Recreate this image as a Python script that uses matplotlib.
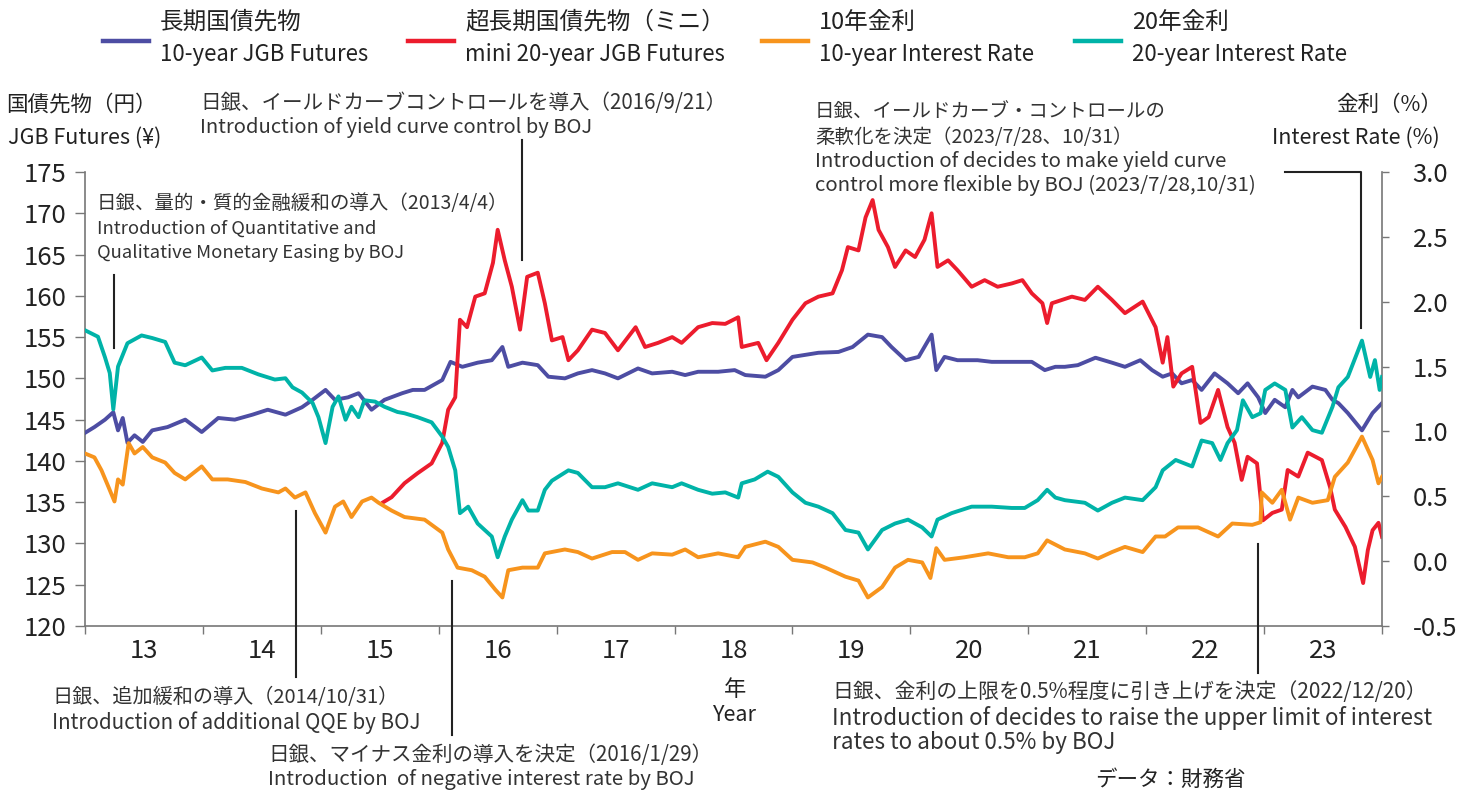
import matplotlib
matplotlib.use('Agg')
import matplotlib.pyplot as plt
from matplotlib.lines import Line2D

plt.rcParams['font.family'] = ['Noto Sans CJK JP', 'DejaVu Sans']

# ---------------- data (decimal years) ----------------
jgb_x = [2013.00, 2013.08, 2013.17, 2013.24, 2013.28, 2013.32, 2013.36, 2013.42, 2013.49, 2013.57,
         2013.70, 2013.85, 2013.99, 2014.13, 2014.27, 2014.42, 2014.55, 2014.70, 2014.84, 2014.93,
         2015.04, 2015.12, 2015.23, 2015.32, 2015.43, 2015.54, 2015.69, 2015.78, 2015.88, 2016.03,
         2016.10, 2016.20, 2016.33, 2016.45, 2016.54, 2016.59, 2016.71, 2016.84, 2016.93, 2017.07,
         2017.18, 2017.30, 2017.41, 2017.52, 2017.69, 2017.81, 2017.98, 2018.09, 2018.20, 2018.37,
         2018.51, 2018.60, 2018.77, 2018.88, 2019.00, 2019.22, 2019.39, 2019.51, 2019.64, 2019.76,
         2019.84, 2019.96, 2020.07, 2020.18, 2020.22, 2020.29, 2020.40, 2020.57, 2020.69, 2020.86,
         2021.03, 2021.14, 2021.23, 2021.31, 2021.42, 2021.57, 2021.71, 2021.82, 2021.95, 2022.05,
         2022.14, 2022.22, 2022.30, 2022.39, 2022.47, 2022.58, 2022.69, 2022.78, 2022.86, 2022.95,
         2023.01, 2023.09, 2023.18, 2023.24, 2023.29, 2023.41, 2023.52, 2023.58, 2023.63, 2023.71,
         2023.83, 2023.92, 2024.00]
jgb_y = [143.4, 144.1, 145.0, 145.9, 143.7, 145.2, 142.2, 143.1, 142.3, 143.7,
         144.1, 145.0, 143.5, 145.2, 145.0, 145.6, 146.2, 145.6, 146.5, 147.4,
         148.6, 147.4, 147.7, 148.2, 146.2, 147.4, 148.2, 148.6, 148.6, 149.8,
         152.0, 151.4, 151.9, 152.2, 153.8, 151.4, 151.9, 151.6, 150.2, 150.0,
         150.6, 151.0, 150.6, 150.0, 151.2, 150.6, 150.8, 150.4, 150.8, 150.8,
         151.0, 150.4, 150.2, 151.0, 152.6, 153.1, 153.2, 153.8, 155.3, 155.0,
         153.8, 152.2, 152.6, 155.3, 151.0, 152.6, 152.2, 152.2, 152.0, 152.0,
         152.0, 151.0, 151.4, 151.4, 151.6, 152.5, 151.9, 151.4, 152.2, 151.0,
         150.2, 150.6, 149.4, 149.8, 148.6, 150.6, 149.4, 148.2, 149.4, 147.7,
         145.8, 147.4, 146.5, 148.6, 147.7, 149.0, 148.6, 147.4, 147.0, 145.8,
         143.7, 145.8, 147.0]

mini_x = [2015.53, 2015.60, 2015.71, 2015.82, 2015.94, 2016.03, 2016.08, 2016.14, 2016.18, 2016.24,
          2016.31, 2016.39, 2016.46, 2016.50, 2016.56, 2016.62, 2016.69, 2016.75, 2016.84, 2016.90,
          2016.96, 2017.05, 2017.10, 2017.18, 2017.30, 2017.41, 2017.52, 2017.67, 2017.75, 2017.86,
          2017.98, 2018.06, 2018.20, 2018.32, 2018.43, 2018.54, 2018.57, 2018.71, 2018.78, 2018.88,
          2019.00, 2019.11, 2019.22, 2019.34, 2019.42, 2019.47, 2019.56, 2019.62, 2019.68, 2019.73,
          2019.81, 2019.87, 2019.96, 2020.04, 2020.12, 2020.18, 2020.23, 2020.32, 2020.40, 2020.52,
          2020.63, 2020.74, 2020.86, 2020.95, 2021.03, 2021.12, 2021.16, 2021.20, 2021.37, 2021.48,
          2021.59, 2021.71, 2021.82, 2021.97, 2022.08, 2022.14, 2022.18, 2022.23, 2022.30, 2022.39,
          2022.46, 2022.53, 2022.61, 2022.69, 2022.75, 2022.81, 2022.86, 2022.94, 2022.99, 2023.07,
          2023.15, 2023.20, 2023.29, 2023.37, 2023.49, 2023.56, 2023.60, 2023.69, 2023.77, 2023.84,
          2023.88, 2023.92, 2023.97, 2024.00]
mini_y = [135.0, 135.6, 137.3, 138.5, 139.7, 142.2, 146.2, 147.7, 157.1, 156.2,
          159.9, 160.3, 164.0, 168.0, 164.3, 161.1, 155.9, 162.3, 162.8, 159.1,
          154.6, 155.0, 152.2, 153.4, 155.9, 155.5, 153.4, 156.2, 153.8, 154.3,
          155.0, 154.3, 156.2, 156.7, 156.6, 157.4, 153.8, 154.3, 152.2, 154.3,
          157.1, 159.1, 159.9, 160.3, 163.1, 165.9, 165.5, 169.5, 171.6, 168.0,
          165.9, 163.5, 165.5, 164.7, 166.8, 170.0, 163.5, 164.3, 163.1, 161.1,
          161.9, 161.1, 161.5, 161.9, 160.3, 159.1, 156.7, 159.1, 159.9, 159.5,
          161.1, 159.5, 157.9, 159.3, 156.2, 151.9, 155.0, 149.0, 150.6, 151.4,
          144.6, 145.3, 148.6, 144.1, 142.2, 137.7, 140.5, 139.7, 132.8, 133.7,
          134.1, 138.9, 138.1, 141.0, 140.1, 136.8, 134.1, 132.0, 129.6, 125.2,
          129.2, 131.6, 132.5, 130.8]

r10_x = [2013.00, 2013.08, 2013.14, 2013.20, 2013.25, 2013.28, 2013.32, 2013.37, 2013.42, 2013.49,
         2013.57, 2013.68, 2013.76, 2013.85, 2013.99, 2014.08, 2014.21, 2014.36, 2014.50, 2014.64,
         2014.70, 2014.78, 2014.87, 2014.95, 2015.04, 2015.12, 2015.19, 2015.26, 2015.35, 2015.43,
         2015.49, 2015.60, 2015.71, 2015.88, 2016.03, 2016.08, 2016.16, 2016.28, 2016.39, 2016.48,
         2016.54, 2016.59, 2016.71, 2016.84, 2016.90, 2017.07, 2017.18, 2017.30, 2017.47, 2017.58,
         2017.69, 2017.81, 2017.98, 2018.09, 2018.20, 2018.37, 2018.54, 2018.60, 2018.77, 2018.88,
         2019.00, 2019.17, 2019.28, 2019.45, 2019.56, 2019.64, 2019.76, 2019.87, 2019.98, 2020.10,
         2020.17, 2020.22, 2020.29, 2020.46, 2020.66, 2020.83, 2020.97, 2021.08, 2021.16, 2021.31,
         2021.48, 2021.59, 2021.71, 2021.82, 2021.97, 2022.08, 2022.16, 2022.27, 2022.44, 2022.61,
         2022.73, 2022.90, 2022.97, 2022.98, 2023.07, 2023.15, 2023.22, 2023.29, 2023.41, 2023.54,
         2023.60, 2023.71, 2023.83, 2023.92, 2023.97, 2024.00]
r10_y = [0.83, 0.80, 0.70, 0.57, 0.46, 0.63, 0.59, 0.91, 0.83, 0.88,
         0.80, 0.76, 0.68, 0.63, 0.73, 0.63, 0.63, 0.61, 0.56, 0.53,
         0.56, 0.49, 0.53, 0.37, 0.22, 0.42, 0.46, 0.34, 0.46, 0.49,
         0.45, 0.39, 0.34, 0.32, 0.22, 0.09, -0.05, -0.07, -0.12, -0.22,
         -0.28, -0.07, -0.05, -0.05, 0.06, 0.09, 0.07, 0.02, 0.07, 0.07,
         0.01, 0.06, 0.05, 0.09, 0.03, 0.06, 0.03, 0.11, 0.15, 0.11,
         0.01, -0.01, -0.05, -0.12, -0.15, -0.28, -0.20, -0.05, 0.01, -0.01,
         -0.13, 0.10, 0.01, 0.03, 0.06, 0.03, 0.03, 0.06, 0.16, 0.09,
         0.06, 0.02, 0.07, 0.11, 0.07, 0.19, 0.19, 0.26, 0.26, 0.19,
         0.29, 0.28, 0.30, 0.53, 0.45, 0.55, 0.32, 0.49, 0.45, 0.47,
         0.65, 0.76, 0.96, 0.78, 0.60, 0.65]

r20_x = [2013.00, 2013.11, 2013.17, 2013.21, 2013.24, 2013.28, 2013.36, 2013.48, 2013.57, 2013.68,
         2013.76, 2013.85, 2013.99, 2014.08, 2014.19, 2014.33, 2014.47, 2014.61, 2014.70, 2014.76,
         2014.84, 2014.93, 2014.98, 2015.04, 2015.10, 2015.15, 2015.21, 2015.26, 2015.32, 2015.37,
         2015.46, 2015.54, 2015.65, 2015.71, 2015.82, 2015.94, 2016.03, 2016.08, 2016.14, 2016.18,
         2016.25, 2016.33, 2016.45, 2016.50, 2016.56, 2016.62, 2016.71, 2016.76, 2016.84, 2016.90,
         2016.96, 2017.10, 2017.18, 2017.30, 2017.41, 2017.52, 2017.69, 2017.81, 2017.98, 2018.06,
         2018.20, 2018.32, 2018.43, 2018.54, 2018.57, 2018.68, 2018.79, 2018.88, 2019.00, 2019.11,
         2019.22, 2019.34, 2019.45, 2019.56, 2019.64, 2019.76, 2019.87, 2019.98, 2020.10, 2020.18,
         2020.23, 2020.35, 2020.52, 2020.69, 2020.86, 2020.97, 2021.08, 2021.16, 2021.23, 2021.31,
         2021.48, 2021.59, 2021.71, 2021.82, 2021.97, 2022.08, 2022.14, 2022.25, 2022.39, 2022.47,
         2022.56, 2022.63, 2022.69, 2022.77, 2022.82, 2022.90, 2022.97, 2023.01, 2023.09, 2023.18,
         2023.24, 2023.32, 2023.41, 2023.49, 2023.58, 2023.63, 2023.71, 2023.83, 2023.90, 2023.94,
         2023.98, 2024.00]
r20_y = [1.78, 1.73, 1.57, 1.45, 1.17, 1.50, 1.68, 1.74, 1.72, 1.69,
         1.53, 1.51, 1.57, 1.47, 1.49, 1.49, 1.44, 1.40, 1.41, 1.34,
         1.30, 1.22, 1.11, 0.91, 1.19, 1.27, 1.09, 1.19, 1.11, 1.24,
         1.23, 1.19, 1.15, 1.14, 1.11, 1.07, 0.96, 0.88, 0.70, 0.37,
         0.42, 0.29, 0.19, 0.03, 0.19, 0.32, 0.47, 0.39, 0.39, 0.55,
         0.62, 0.70, 0.68, 0.57, 0.57, 0.60, 0.55, 0.60, 0.57, 0.60,
         0.55, 0.52, 0.53, 0.49, 0.60, 0.63, 0.69, 0.65, 0.53, 0.45,
         0.42, 0.37, 0.24, 0.22, 0.09, 0.24, 0.29, 0.32, 0.26, 0.19,
         0.32, 0.37, 0.42, 0.42, 0.41, 0.41, 0.47, 0.55, 0.49, 0.47,
         0.45, 0.39, 0.45, 0.49, 0.47, 0.57, 0.70, 0.78, 0.73, 0.93,
         0.91, 0.78, 0.91, 1.01, 1.24, 1.11, 1.14, 1.32, 1.37, 1.32,
         1.03, 1.11, 1.01, 0.99, 1.19, 1.34, 1.42, 1.70, 1.42, 1.55,
         1.32, 1.42]

year_ticks = list(range(2013, 2025))
year_labels = ['13', '14', '15', '16', '17', '18', '19', '20', '21', '22', '23']
left_ticks = [120, 125, 130, 135, 140, 145, 150, 155, 160, 165, 170, 175]
right_ticks = [-0.5, 0.0, 0.5, 1.0, 1.5, 2.0, 2.5, 3.0]
right_labels = ['-0.5', '0.0', '0.5', '1.0', '1.5', '2.0', '2.5', '3.0']

C_JGB = '#4D4DA3'
C_MINI = '#EC1C2D'
C_R10 = '#F7941D'
C_R20 = '#00B3A8'
TXT = '#333333'
DARK = '#222222'
SPINE = '#777777'

# ---------------- figure ----------------
W, H = 1460, 792
fig = plt.figure(figsize=(W / 100, H / 100), dpi=100)
L, R, T, B = 85, 1382, 172, 626
ax = fig.add_axes([L / W, 1 - B / H, (R - L) / W, (B - T) / H])
ax2 = ax.twinx()

LW = 2.8
ax.plot(jgb_x, jgb_y, color=C_JGB, lw=LW, solid_joinstyle='round', zorder=3)
ax.plot(mini_x, mini_y, color=C_MINI, lw=LW, solid_joinstyle='round', zorder=4)
ax2.plot(r20_x, r20_y, color=C_R20, lw=LW, solid_joinstyle='round', zorder=3)
ax2.plot(r10_x, r10_y, color=C_R10, lw=LW, solid_joinstyle='round', zorder=4)

ax.set_xlim(2013, 2024)
ax.set_ylim(120, 175)
ax2.set_ylim(-0.5, 3.0)

ax.set_xticks(year_ticks)
ax.set_xticklabels([''] * len(year_ticks))
ax.set_xticks([y + 0.5 for y in year_ticks[:-1]], minor=True)
ax.set_xticklabels(year_labels, minor=True)
ax.tick_params(axis='x', which='major', length=6, width=1, color=SPINE, direction='out')
ax.tick_params(axis='x', which='minor', length=0, pad=9, labelsize=18.5, labelcolor=DARK)

ax.set_yticks(left_ticks)
ax.set_yticklabels([str(v) for v in left_ticks])
ax.tick_params(axis='y', length=7, width=1, color=SPINE, pad=6, labelsize=18.5, labelcolor=DARK)

ax2.set_yticks(right_ticks)
ax2.set_yticklabels(right_labels)
ax2.tick_params(axis='y', length=5, width=1, color=SPINE, pad=17, labelsize=18.5, labelcolor=DARK)

for a in (ax, ax2):
    a.spines['top'].set_visible(False)
    for s in ('left', 'right', 'bottom'):
        a.spines[s].set_color(SPINE)
        a.spines[s].set_linewidth(1.2)
ax.spines['right'].set_visible(False)
ax2.spines['left'].set_visible(False)
ax2.spines['bottom'].set_visible(False)


def px(x, y):
    return x / W, 1 - y / H


def txt(x, y, s, size, ha='left', va='center', color=TXT, weight='normal'):
    fig.text(*px(x, y), s, fontsize=size, ha=ha, va=va, color=color, fontweight=weight)


# ---------------- legend ----------------
leg = [(103, C_JGB, '長期国債先物', '10-year JGB Futures'),
       (408, C_MINI, '超長期国債先物（ミニ）', 'mini 20-year JGB Futures'),
       (762, C_R10, '10年金利', '10-year Interest Rate'),
       (1075, C_R20, '20年金利', '20-year Interest Rate')]
for x0, c, jp, en in leg:
    x1, y1 = px(x0, 41)
    x2, _ = px(x0 + 46, 41)
    fig.add_artist(Line2D([x1, x2], [y1, y1], color=c, lw=3.2, transform=fig.transFigure))
    txt(x0 + 57, 22, jp, 17, color=DARK)
    txt(x0 + 57, 55, en, 16, color=DARK)

# ---------------- axis titles ----------------
txt(6, 105, '国債先物（円）', 15.5, color=DARK)
txt(8, 138, 'JGB Futures (¥)', 15.5, color=DARK)
txt(1442, 105, '金利（%）', 15.5, ha='right', color=DARK)
txt(1440, 138, 'Interest Rate (%)', 15.5, ha='right', color=DARK)
txt(735, 690, '年', 16, ha='center', color=DARK)
txt(735, 715, 'Year', 15.5, ha='center', color=DARK)
txt(1170, 780, 'データ：財務省', 15.5, ha='center', color=DARK)

# ---------------- annotations ----------------
txt(97, 203, '日銀、量的・質的金融緩和の導入（2013/4/4）', 14)
txt(97, 229, 'Introduction of Quantitative and', 13.3)
txt(97, 253, 'Qualitative Monetary Easing by BOJ', 13.3)

txt(200, 103, '日銀、イールドカーブコントロールを導入（2016/9/21）', 14.8)
txt(200, 128, 'Introduction of yield curve control by BOJ', 14.5)

txt(815, 112, '日銀、イールドカーブ・コントロールの', 14)
txt(815, 137, '柔軟化を決定（2023/7/28、10/31）', 14)
txt(815, 161, 'Introduction of decides to make yield curve', 14.7)
txt(815, 185, 'control more flexible by BOJ (2023/7/28,10/31)', 14.7)

txt(52, 698, '日銀、追加緩和の導入（2014/10/31）', 14.5)
txt(52, 723, 'Introduction of additional QQE by BOJ', 14.8)

txt(268, 755, '日銀、マイナス金利の導入を決定（2016/1/29）', 14.8)
txt(268, 780, 'Introduction  of negative interest rate by BOJ', 14.7)

txt(832, 692, '日銀、金利の上限を0.5%程度に引き上げを決定（2022/12/20）', 15)
txt(832, 718, 'Introduction of decides to raise the upper limit of interest', 16.2)
txt(832, 743, 'rates to about 0.5% by BOJ', 16.2)

# leader lines (data coordinates on the left axis)
LC = '#222222'
LLW = 1.5
leaders = [([2013.25, 2013.25], [162.5, 153.7]),
           ([2016.71, 2016.71], [178.9, 164.3]),
           ([2014.79, 2014.79], [133.9, 113.8]),
           ([2016.11, 2016.11], [125.5, 106.8]),
           ([2022.95, 2022.95], [129.9, 114.3]),
           ([2023.18, 2023.82, 2023.82], [175.0, 175.0, 156.1])]
for xs, ys in leaders:
    ax.plot(xs, ys, color=LC, lw=LLW, clip_on=False, zorder=5)

fig.savefig('out.png', dpi=100)
